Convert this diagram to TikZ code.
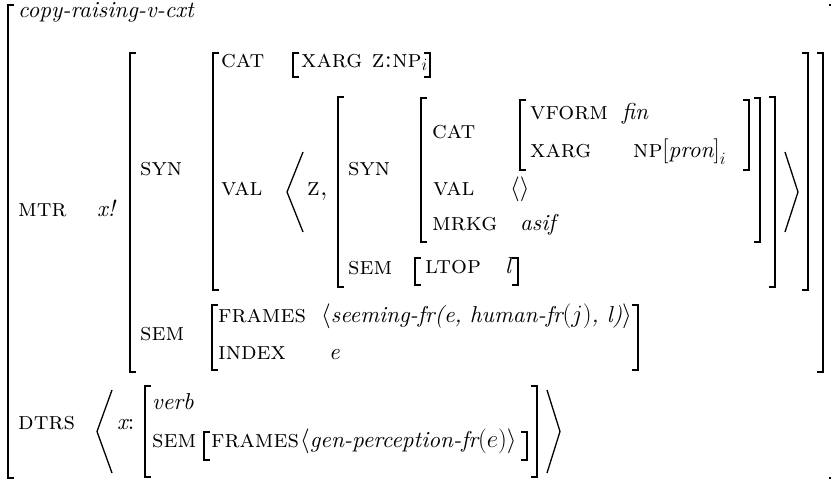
\documentclass[tikz,border=0pt]{standalone}
\usepackage{fontspec}
\setmainfont{lmroman10-regular.otf}[ItalicFont=lmroman10-italic.otf,
  SmallCapsFont=lmromancaps10-regular.otf, BoldFont=lmroman10-bold.otf]
\tikzset{brak/.style={line width=1.5pt, line cap=square},
         ang/.style={line width=1.3pt},
         feat/.style={anchor=mid west, inner sep=0pt, font=\fontsize{25}{29}\selectfont\scshape},
         val/.style={anchor=mid west, inner sep=0pt, font=\fontsize{23}{27}\selectfont\itshape}
        }
\newcommand\avmlb[3]{\draw[brak] ({#1+6},#2) -- (#1,#2) -- (#1,#3) -- ({#1+6},#3);}
\newcommand\avmrb[3]{\draw[brak] ({#1-6},#2) -- (#1,#2) -- (#1,#3) -- ({#1-6},#3);}
\newcommand\avmla[4]{\draw[ang] (#2,#3) -- (#1,{(#3+#4)/2}) -- (#2,#4);}
\newcommand\avmra[4]{\draw[ang] (#1,#3) -- (#2,{(#3+#4)/2}) -- (#1,#4);}
\begin{document}
\begin{tikzpicture}[x=1pt,y=-1pt]
  \useasboundingbox (0,0) rectangle (831,482);
  \avmlb{8}{5}{478}  \avmrb{835}{5}{478}
  \node[val]  (type) at (18,15) {copy-raising-v-cxt};
  \node[feat] (mtr) at (18,214) {mtr};
  \node[val]  (xbang) at (97,214) {x!};
  \avmlb{130}{53}{372}  \avmrb{823}{53}{372}
  \node[feat] (syn) at (140,173) {syn};
  \node[feat] (sem) at (140,338) {sem};
  \avmlb{213}{53}{290}  \avmrb{808}{53}{290}
  \node[feat] (cat) at (221,65) {cat};
  \avmlb{293}{53}{77}  \avmrb{430}{53}{77}
  \node[feat] (xarg) at (301,65) {xarg z:np$_i$};
  \node[feat] (val) at (221,193) {val};
  \avmla{287}{303}{152}{232}  \avmra{785}{798}{152}{232}
  \node[feat] (z) at (307,193) {z,};
  \avmlb{338}{97}{287}  \avmrb{775}{97}{287}
  \node[feat] (isyn) at (348,173) {syn};
  \node[feat] (isem) at (348,272) {sem};
  \avmlb{421}{98}{242}  \avmrb{760}{98}{242}
  \node[feat] (icat) at (432,136) {cat};
  \avmlb{520}{100}{170}  \avmrb{749}{100}{170}
  \node[feat] (vform) at (530,117) {vform};
  \node[val]  (fin) at (622,117) {fin};
  \node[feat] (ixarg) at (530,155) {xarg};
  \node[feat] (np) at (633,155) {np$\bigl[$\normalfont\fontsize{23}{27}\selectfont\itshape pron$\bigr]_i$};
  \node[feat] (ival) at (433,193) {val};
  \node[feat] (empty) at (510,193) {$\langle\rangle$};
  \node[feat] (mrkg) at (432,228) {mrkg};
  \node[val]  (asif) at (520,228) {asif};
  \avmlb{415}{258}{285}  \avmrb{518}{258}{285}
  \node[feat] (ltop) at (425,271) {ltop};
  \node[val]  (l) at (505,271) {l};
  \avmlb{212}{305}{370}  \avmrb{638}{305}{370}
  \node[feat] (frames) at (218,320) {frames};
  \node[val]  (seeming) at (321,320) {$\bigl\langle$seeming-fr(e, human-fr$(j)$, l)$\bigr\rangle$};
  \node[feat] (index) at (218,357) {index};
  \node[val]  (e) at (329,357) {e};
  \node[feat] (dtrs) at (18,427) {dtrs};
  \avmla{97}{112}{390}{473}  \avmra{547}{560}{390}{473}
  \node[val]  (xdtr) at (117,427) {x\upshape:};
  \avmlb{145}{386}{477}  \avmrb{537}{386}{477}
  \node[val]  (verb) at (152,407) {verb};
  \node[feat] (dsem) at (152,445) {sem};
  \avmlb{204}{432}{460}  \avmrb{527}{432}{460}
  \node[feat] (dframes) at (211,445) {frames};
  \node[val]  (genperc) at (300,445) {$\bigl\langle$gen-perception-fr$(e)\bigr\rangle$};
\end{tikzpicture}
\end{document}
